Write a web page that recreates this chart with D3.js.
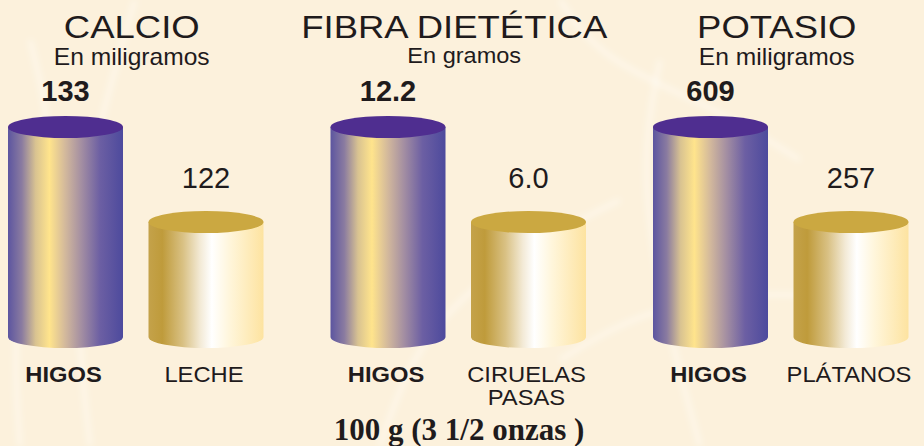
<!DOCTYPE html>
<html lang="es">
  <head>
    <meta charset="UTF-8" />
    <title>Higos - Calcio, Fibra, Potasio</title>
    <script src="https://d3js.org/d3.v7.min.js"></script>
    <style>
      html, body { margin: 0; padding: 0; background: #fcf1dc; }
      svg { display: block; }
      text { font-family: "Liberation Sans", Arial, Helvetica, sans-serif; fill: #1f1b1c; }
    </style>
  </head>
  <body>
    <svg id="chart" width="924" height="446"></svg>

    <script>
      // data
      const panels = ["CALCIO", "FIBRA DIETÉTICA", "POTASIO"];
      const units = ["En miligramos", "En gramos", "En miligramos"];
      const decimals = [0, 1, 0];
      const higosValues = [133, 12.2, 609];
      const otherValues = [122, 6.0, 257];
      const otherFoods = [["LECHE"], ["CIRUELAS", "PASAS"], ["PLÁTANOS"]];
      const footnote = "100 g (3 1/2 onzas )";

      const svg = d3.select("#chart");

      const defs = svg.append("defs");

      function linGrad(id, stops) {
        const g = defs.append("linearGradient").attr("id", id)
          .attr("x1", "0%").attr("x2", "100%").attr("y1", "0%").attr("y2", "0%");
        stops.forEach(([o, c]) => g.append("stop").attr("offset", o).attr("stop-color", c));
      }
      linGrad("gradHigos", [
        [0, "#5c55a0"], [0.12, "#8a7ba0"], [0.24, "#d9c391"], [0.36, "#ffe48c"],
        [0.5, "#d2b89c"], [0.64, "#a38ea2"], [0.8, "#6c5fa3"], [1, "#4d4a9d"]
      ]);
      linGrad("gradOther", [
        [0, "#c4a24a"], [0.12, "#bf9b3b"], [0.3, "#d9c184"], [0.45, "#f3ead6"],
        [0.55, "#ffffff"], [0.7, "#fff6dc"], [1, "#fde3a0"]
      ]);

      defs.append("filter").attr("id", "soft")
        .append("feGaussianBlur").attr("stdDeviation", 3);

      // faint background swirls
      const swirls = svg.append("g").attr("filter", "url(#soft)")
        .attr("fill", "none").attr("stroke", "#ffffff").attr("stroke-opacity", 0.4);
      const swirlLine = d3.line().curve(d3.curveBasis);
      [
        [[135, 0], [100, 120], [70, 260], [90, 446]],
        [[20, 446], [10, 300], [60, 160], [30, 40]],
        [[380, 446], [420, 330], [520, 250], [620, 200]],
        [[560, 0], [600, 60], [720, 110], [800, 160]],
        [[660, 60], [640, 160], [660, 300], [700, 446]],
        [[860, 300], [760, 290], [640, 310], [560, 360]]
      ].forEach((pts) => swirls.append("path").attr("d", swirlLine(pts)).attr("stroke-width", 5));

      // scales
      const panelX = d3.scaleBand().domain(panels).range([0, 967.5]);
      const itemX = d3.scalePoint().domain(["higos", "other"]).range([65.5, 206]);
      // the picture shows rank, not proportion: taller cylinder for the larger value
      const rankHeight = d3.scaleOrdinal().domain([0, 1]).range([210, 115]);

      const baseY = 337;
      const rx = 57.5;
      const ry = 11;

      function cylinder(g, cx, h, grad, topColor) {
        const top = baseY - h;
        g.append("path")
          .attr("d", `M${cx - rx},${top} L${cx - rx},${baseY} A${rx},${ry} 0 0 0 ${cx + rx},${baseY} L${cx + rx},${top} Z`)
          .attr("fill", `url(#${grad})`);
        g.append("ellipse")
          .attr("cx", cx).attr("cy", top).attr("rx", rx).attr("ry", ry)
          .attr("fill", topColor);
      }

      panels.forEach((name, i) => {
        const x0 = panelX(name);
        const g = svg.append("g");
        const fmt = d3.format(`.${decimals[i]}f`);
        const mid = x0 + (itemX("higos") + itemX("other")) / 2 - 4;

        g.append("text")
          .attr("transform", `translate(${mid},${38}) scale(1.14,1)`)
          .attr("text-anchor", "middle").style("font-size", "32px")
          .text(name);
        g.append("text")
          .attr("transform", `translate(${mid + (i === 1 ? 10 : 0)},${i === 1 ? 63 : 65}) scale(1.07,1)`)
          .attr("text-anchor", "middle").style("font-size", i === 1 ? "22px" : "23px")
          .text(units[i]);

        const items = [
          { key: "higos", value: higosValues[i], lines: ["HIGOS"], bold: true },
          { key: "other", value: otherValues[i], lines: otherFoods[i], bold: false }
        ];
        items.forEach((d) => {
          const rank = items.filter((o) => o.value > d.value).length;
          const h = rankHeight(rank);
          const cx = x0 + itemX(d.key);
          const top = baseY - h;
          if (d.key === "higos") cylinder(g, cx, h, "gradHigos", "#4f2e90");
          else cylinder(g, cx, h, "gradOther", "#cba841");

          g.append("text")
            .attr("x", cx).attr("y", top - ry - (rank === 0 ? 15 : 23))
            .attr("text-anchor", "middle")
            .style("font-size", "29px")
            .style("font-weight", d.bold ? "bold" : "normal")
            .text(fmt(d.value));

          d.lines.forEach((line, j) => {
            g.append("text")
              .attr("transform", `translate(${cx - 2},${382 + j * 23}) scale(1.08,1)`)
              .attr("text-anchor", "middle")
              .style("font-size", "22px")
              .style("font-weight", d.bold ? "bold" : "normal")
              .text(line);
          });
        });
      });

      svg.append("text")
        .attr("x", 459).attr("y", 440)
        .attr("text-anchor", "middle")
        .style("font-family", "'Liberation Serif', 'Times New Roman', serif")
        .style("font-weight", "bold")
        .style("font-size", "31px")
        .text(footnote);
    </script>
  </body>
</html>
